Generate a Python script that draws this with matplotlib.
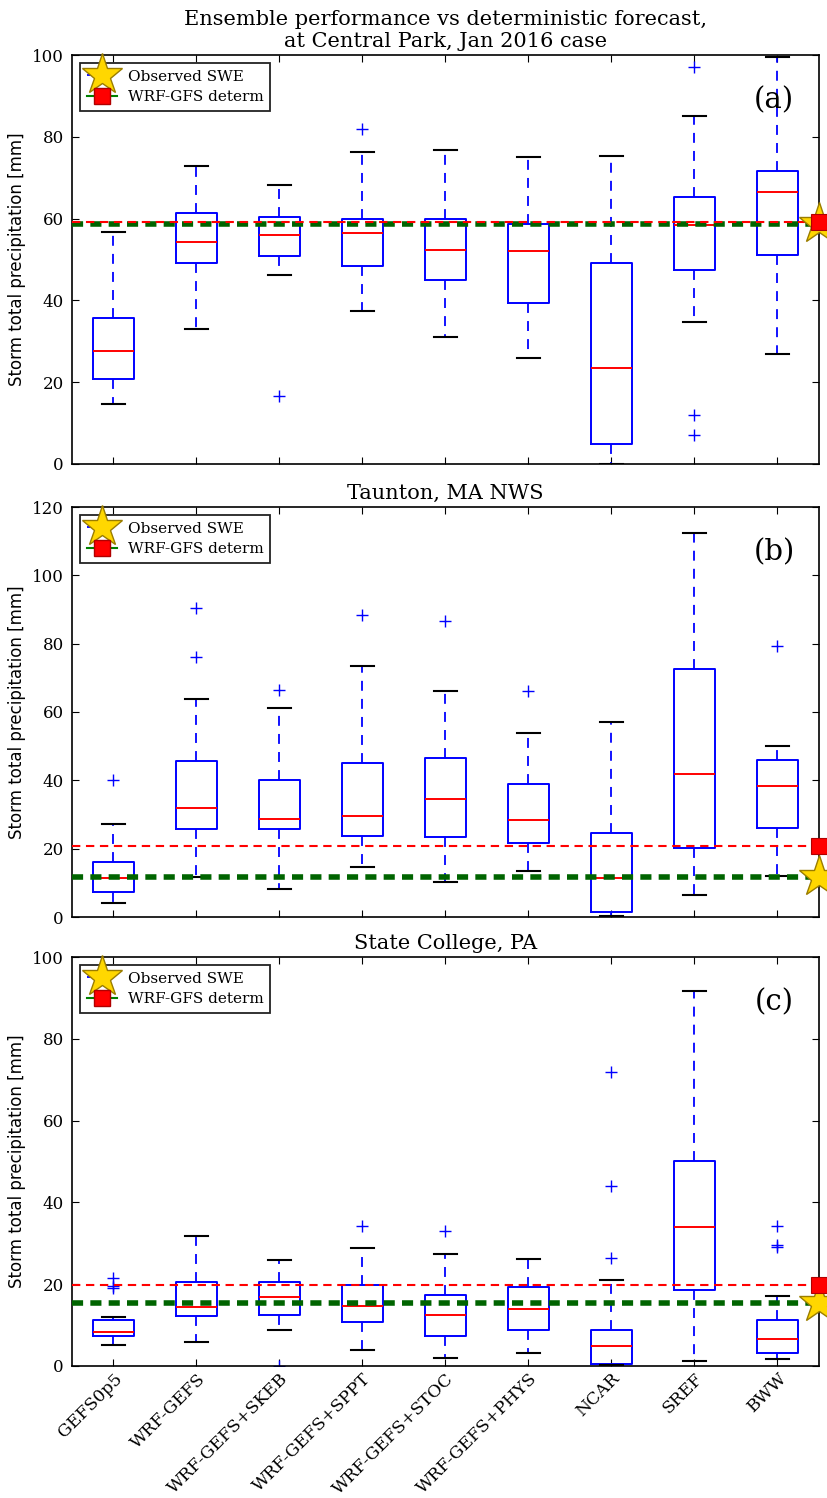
import matplotlib
matplotlib.use("Agg")
import matplotlib.pyplot as plt
from matplotlib.lines import Line2D

plt.rcParams["font.family"] = ["DejaVu Serif"]

categories = ["GEFS0p5", "WRF-GEFS", "WRF-GEFS+SKEB", "WRF-GEFS+SPPT",
              "WRF-GEFS+STOC", "WRF-GEFS+PHYS", "NCAR", "SREF", "BWW"]

# Panel (a) Central Park
a_whislo = [14.7, 32.9, 46.2, 37.4, 31.1, 25.8, 0.0, 34.7, 27.0]
a_q1 = [20.9, 49.2, 50.9, 48.5, 45.1, 39.4, 5.0, 47.4, 51.2]
a_med = [27.6, 54.2, 55.9, 56.4, 52.3, 52.0, 23.4, 58.5, 66.6]
a_q3 = [35.8, 61.3, 60.4, 60.0, 60.0, 58.6, 49.2, 65.4, 71.7]
a_whishi = [56.8, 72.9, 68.1, 76.4, 76.8, 75.0, 75.4, 85.1, 99.6]
a_fliers = [[], [], [16.7], [81.9], [], [], [], [12.1, 7.2, 97.0], []]
a_obs = 58.6
a_det = 59.1

# Panel (b) Taunton
b_whislo = [4.2, 11.6, 8.2, 14.5, 10.3, 13.5, 0.2, 6.3, 11.9]
b_q1 = [7.4, 25.8, 25.8, 23.7, 23.4, 21.7, 1.4, 20.2, 26.0]
b_med = [11.5, 31.8, 28.8, 29.7, 34.4, 28.4, 11.3, 41.9, 38.2]
b_q3 = [16.1, 45.7, 40.2, 45.0, 46.4, 39.0, 24.7, 72.7, 46.0]
b_whishi = [27.3, 63.7, 61.1, 73.6, 66.1, 54.0, 57.2, 112.4, 50.0]
b_fliers = [[40.2], [90.5, 76.0], [66.3], [88.3], [86.7], [66.1], [], [], [79.4]]
b_obs = 11.8
b_det = 20.9

# Panel (c) State College
c_whislo = [5.2, 5.9, 8.7, 3.8, 2.0, 3.2, 0.2, 1.2, 1.6]
c_q1 = [7.4, 12.3, 12.5, 10.8, 7.3, 8.9, 0.6, 18.5, 3.1]
c_med = [8.2, 14.4, 16.8, 14.7, 12.4, 13.9, 4.9, 34.1, 6.7]
c_q3 = [11.2, 20.5, 20.6, 19.8, 17.4, 19.3, 8.9, 50.2, 11.2]
c_whishi = [12.1, 31.7, 25.8, 28.8, 27.4, 26.2, 21.1, 91.6, 17.2]
c_fliers = [[21.4, 19.6, 19.0], [], [0.1], [34.2], [32.9], [],
            [71.8, 44.1, 26.3], [], [34.3, 29.5, 29.0]]
c_obs = 15.4
c_det = 19.9

panels = [
    dict(lo=a_whislo, q1=a_q1, med=a_med, q3=a_q3, hi=a_whishi, fl=a_fliers,
         obs=a_obs, det=a_det, ymax=100,
         title="Ensemble performance vs deterministic forecast,\nat Central Park, Jan 2016 case",
         tag="(a)"),
    dict(lo=b_whislo, q1=b_q1, med=b_med, q3=b_q3, hi=b_whishi, fl=b_fliers,
         obs=b_obs, det=b_det, ymax=120, title="Taunton, MA NWS", tag="(b)"),
    dict(lo=c_whislo, q1=c_q1, med=c_med, q3=c_q3, hi=c_whishi, fl=c_fliers,
         obs=c_obs, det=c_det, ymax=100, title="State College, PA", tag="(c)"),
]

fig = plt.figure(figsize=(8.28, 14.98), dpi=100)
W, H = 828.0, 1498.0
left, right = 72, 819
boxes_px = [(55, 464), (507, 917), (957, 1366)]

positions = list(range(1, len(categories) + 1))

for i, (p, (top, bot)) in enumerate(zip(panels, boxes_px)):
    ax = fig.add_axes([left / W, 1 - bot / H, (right - left) / W, (bot - top) / H])
    stats = []
    for k in range(len(categories)):
        stats.append(dict(whislo=p["lo"][k], q1=p["q1"][k], med=p["med"][k],
                          q3=p["q3"][k], whishi=p["hi"][k], fliers=p["fl"][k]))
    ax.bxp(stats, positions=positions, widths=0.5, capwidths=0.27,
           boxprops=dict(color="blue", lw=1.4),
           medianprops=dict(color="red", lw=1.4),
           whiskerprops=dict(color="blue", lw=1.3, linestyle=(0, (5.5, 4.5))),
           capprops=dict(color="black", lw=1.5),
           flierprops=dict(marker="+", markeredgecolor="blue", markersize=9,
                           markeredgewidth=1.0, linestyle="none"))
    ax.axhline(p["obs"], color="darkgreen", lw=4, linestyle=(0, (2.0, 1.3)), zorder=3)
    ax.axhline(p["det"], color="red", lw=1.5, linestyle=(0, (4, 2.7)), zorder=3.5)
    ax.plot([9.5], [p["obs"]], marker="*", markersize=31, color="gold",
            markeredgecolor="#9a7d00", markeredgewidth=1.0, clip_on=False, zorder=6)
    ax.plot([9.5], [p["det"]], marker="s", markersize=11, color="red",
            markeredgecolor="#b00000", markeredgewidth=0.8, clip_on=False, zorder=7)

    ax.set_xlim(0.5, 9.5)
    ax.set_ylim(0, p["ymax"])
    ax.set_yticks(list(range(0, p["ymax"] + 1, 20)))
    ax.set_xticks(positions)
    ax.tick_params(direction="in", top=True, right=True, length=5)
    ax.tick_params(axis="y", labelsize=12, pad=6)
    ax.tick_params(axis="x", pad=3)
    if i == 2:
        ax.set_xticklabels(categories, rotation=45, ha="right",
                           rotation_mode="anchor", fontsize=12.4)
    else:
        ax.set_xticklabels([])
    ax.set_ylabel("Storm total precipitation [mm]", family="DejaVu Sans",
                  fontsize=12, labelpad=4)
    ax.set_title(p["title"], fontsize=15, pad=6)
    ax.text(0.94, 0.89, p["tag"], transform=ax.transAxes, fontsize=21,
            ha="center", va="center")
    for sp in ax.spines.values():
        sp.set_linewidth(1.2)

    h1 = Line2D([], [], color="blue", lw=1.3, linestyle=(0, (5, 4)), marker="*",
                markersize=31, markerfacecolor="gold", markeredgecolor="#9a7d00")
    h2 = Line2D([], [], color="green", lw=1.5, marker="s", markersize=11,
                markerfacecolor="red", markeredgecolor="#b00000")
    leg = ax.legend([h1, h2], ["Observed SWE", "WRF-GFS determ"], loc="upper left",
                    fontsize=11, numpoints=1, fancybox=False, framealpha=1,
                    edgecolor="#222222", handlelength=2.0, handletextpad=0.7,
                    borderaxespad=0.55, labelspacing=0.45, borderpad=0.4)
    leg.get_frame().set_linewidth(1.3)

fig.savefig("out.png", dpi=100)
